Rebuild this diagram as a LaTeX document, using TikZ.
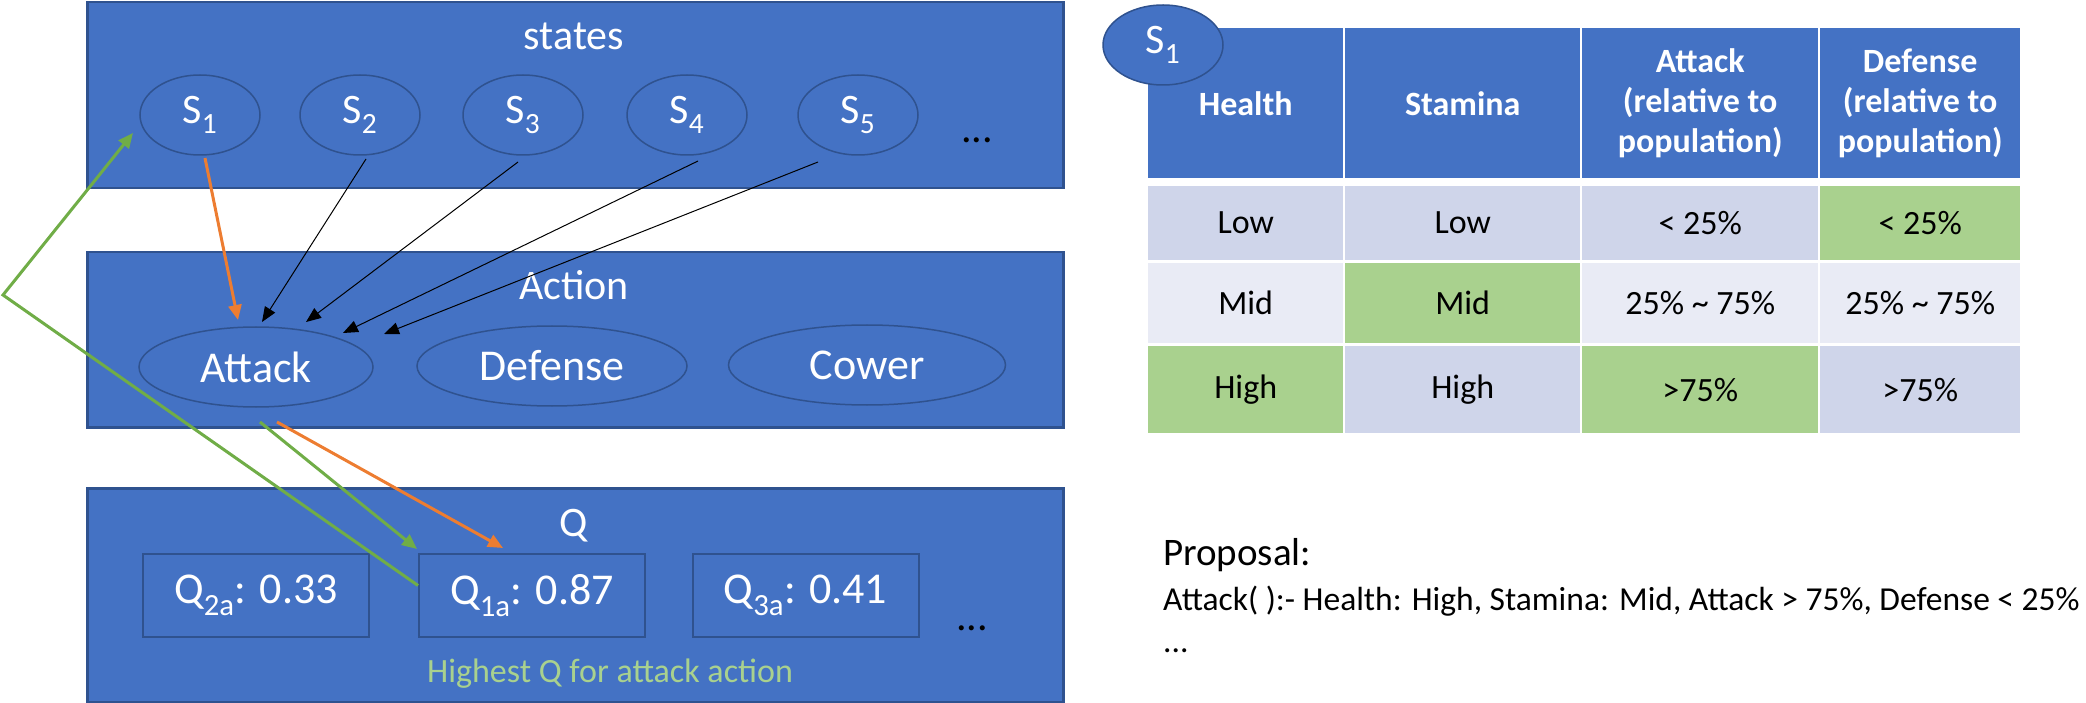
\documentclass[tikz,border=0pt]{standalone}
\usepackage{fontspec}
\setmainfont{Carlito}
\usetikzlibrary{shapes.geometric,arrows.meta,calc}
\definecolor{pblue}{HTML}{4472C4}
\definecolor{pborder}{HTML}{2F528F}
\definecolor{porange}{HTML}{ED7D31}
\definecolor{pgreen}{HTML}{70AD47}
\definecolor{lgreen}{HTML}{A9D18E}
\definecolor{rowa}{HTML}{CFD5EA}
\definecolor{rowb}{HTML}{E9EBF5}
\begin{document}
\begin{tikzpicture}[x=1pt,y=-1pt,
  panel/.style={draw=pborder,line width=2.5pt,fill=pblue,anchor=north west,inner sep=0pt,minimum width=976pt},
  st/.style={ellipse,draw=pborder,line width=1.5pt,fill=pblue,inner sep=0pt,minimum width=120pt,minimum height=80pt,text=white,font=\fontsize{42}{50}\selectfont},
  act/.style={ellipse,draw=pborder,line width=1.5pt,fill=pblue,inner sep=0pt,minimum height=80pt,text=white,font=\fontsize{44}{52}\selectfont},
  qbox/.style={draw=pborder,line width=2pt,fill=pblue,inner sep=0pt,minimum width=226pt,minimum height=83pt,text=white,font=\fontsize{44}{52}\selectfont},
  title/.style={text=white,inner sep=0pt,anchor=base,font=\fontsize{42}{50}\selectfont},
  dots/.style={inner sep=0pt,anchor=base west,font=\fontsize{42}{50}\selectfont},
  hcell/.style={fill=pblue,anchor=north west,inner sep=0pt,align=center,text=white,font=\fontsize{34}{40}\selectfont\bfseries},
  bcell/.style={anchor=north west,inner sep=0pt,align=center,text=black,font=\fontsize{34}{40}\selectfont},
  blk/.style={draw=black,line width=1pt,-{Triangle[length=15pt,width=12pt]}},
  orn/.style={draw=porange,line width=3pt,-{Triangle[length=15pt,width=13pt]}},
  grn/.style={draw=pgreen,line width=3pt,-{Triangle[length=15pt,width=13pt]}},
  txt/.style={inner sep=0pt,anchor=base west}
]
\useasboundingbox (0,0) rectangle (2086,703);

% panels
\node[panel,minimum height=186pt] (statesbox) at (86,1) {};
\node[panel,minimum height=175pt] (actionbox) at (86,251) {};
\node[panel,minimum height=214pt] (qpanel) at (86,487) {};

\node[title] (statest) at (574,50) {states};
\node[title] (actiont) at (574,300) {Action};
\node[title] (qt) at (574,536) {Q};

% states
\node[st] (s1) at (200,115) {S\textsubscript{1}};
\node[st] (s2) at (360,115) {S\textsubscript{2}};
\node[st] (s3) at (523,115) {S\textsubscript{3}};
\node[st] (s4) at (687,115) {S\textsubscript{4}};
\node[st] (s5) at (858,115) {S\textsubscript{5}};
\node[dots] (sdots) at (961,143) {...};

% actions
\node[act,minimum width=234pt] (attack) at (256,367) {Attack};
\node[act,minimum width=270pt] (defense) at (552,366) {Defense};
\node[act,minimum width=277pt] (cower) at (867,365) {Cower};

% Q values
\node[qbox] (q2) at (256,595.5) {Q\textsubscript{2a}: 0.33};
\node[qbox] (q1) at (532,595.5) {Q\textsubscript{1a}: 0.87};
\node[qbox] (q3) at (805.5,595.5) {Q\textsubscript{3a}: 0.41};
\node[dots] (qdots) at (956,630) {...};
\node[inner sep=0pt,anchor=base,text=lgreen,font=\fontsize{34}{40}\selectfont] (hq) at (610,682) {Highest Q for attack action};

% arrows states -> attack
\draw[orn] ($(s1.center)+(5,43)$) -- ($(attack.center)+(-18,-47)$);
\draw[blk] ($(s2.center)+(6,44)$) -- ($(attack.center)+(6,-45)$);
\draw[blk] ($(s3.center)+(-5,47)$) -- ($(attack.center)+(50,-45)$);
\draw[blk] ($(s4.center)+(11,46)$) -- ($(attack.center)+(87,-34)$);
\draw[blk] ($(s5.center)+(-40,47)$) -- ($(attack.center)+(128,-33)$);

% attack -> Q
\draw[grn] ($(attack.center)+(4,55)$) -- ($(q1.north west)+(-1,-4)$);
\draw[orn] ($(attack.center)+(21,55)$) -- ($(q1.north)+(-29,-5)$);

% green feedback
\coordinate (gturn) at (3,295);
\draw[grn,line join=miter] ($(q1.west)+(0,-10)$) -- (gturn) -- ($(s1.center)+(-67,18)$);

% table
\node[hcell,minimum width=195pt,minimum height=150pt] (hh) at (1148,28) {Health};
\node[hcell,minimum width=235pt,minimum height=150pt] (hs) at (1345,28) {Stamina};
\node[hcell,minimum width=236pt,minimum height=150pt] (ha) at (1582,28) {Attack\\(relative to\\population)};
\node[hcell,minimum width=200pt,minimum height=150pt] (hd) at (1820,28) {Defense\\(relative to\\population)};

\node[bcell,fill=rowa,minimum width=195pt,minimum height=74pt] (c11) at (1148,186) {Low};
\node[bcell,fill=rowa,minimum width=235pt,minimum height=74pt] (c12) at (1345,186) {Low};
\node[bcell,fill=rowa,minimum width=236pt,minimum height=74pt] (c13) at (1582,186) {< 25\%};
\node[bcell,fill=lgreen,minimum width=200pt,minimum height=74pt] (c14) at (1820,186) {< 25\%};

\node[bcell,fill=rowb,minimum width=195pt,minimum height=80pt] (c21) at (1148,263) {Mid};
\node[bcell,fill=lgreen,minimum width=235pt,minimum height=80pt] (c22) at (1345,263) {Mid};
\node[bcell,fill=rowb,minimum width=236pt,minimum height=80pt] (c23) at (1582,263) {25\% \textasciitilde{} 75\%};
\node[bcell,fill=rowb,minimum width=200pt,minimum height=80pt] (c24) at (1820,263) {25\% \textasciitilde{} 75\%};

\node[bcell,fill=lgreen,minimum width=195pt,minimum height=87pt] (c31) at (1148,346) {High};
\node[bcell,fill=rowa,minimum width=235pt,minimum height=87pt] (c32) at (1345,346) {High};
\node[bcell,fill=lgreen,minimum width=236pt,minimum height=87pt] (c33) at (1582,346) {>75\%};
\node[bcell,fill=rowa,minimum width=200pt,minimum height=87pt] (c34) at (1820,346) {>75\%};

\node[st] (ts1) at (1163,45) {S\textsubscript{1}};

% proposal
\node[txt,font=\fontsize{39}{46}\selectfont] (prop) at (1163,565) {Proposal:};
\node[txt,font=\fontsize{33.5}{40}\selectfont] (rule) at (1163,610) {Attack( ):- Health: High, Stamina: Mid, Attack > 75\%, Defense < 25\%};
\node[txt,font=\fontsize{33.5}{40}\selectfont] (pdots) at (1163,652) {...};
\end{tikzpicture}
\end{document}
